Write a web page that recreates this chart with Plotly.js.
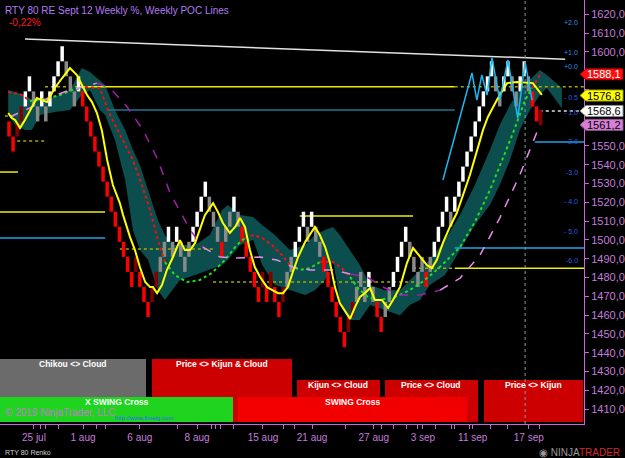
<!DOCTYPE html>
<html>
<head>
<meta charset="utf-8">
<script src="https://cdn.plot.ly/plotly-3.0.1.min.js"></script>
<style>
html,body{margin:0;padding:0;background:#000;overflow:hidden;}
#chart{width:625px;height:458px;}
</style>
</head>
<body>
<div id="chart"></div>
<script>
// ================= DATA =================
const BRICK = 8; // renko brick size (80 ticks)
const brickLow = [
 1555,1547,1555,1563,1571,1579,1571,1563,1571,1563,
 1571,1579,1587,1595,1587,1579,1571,1579,1571,1563,
 1555,1547,1539,1531,1523,1515,1507,1499,1491,1483,
 1475,1483,1475,1467,1459,1467,1475,1483,1491,1499,
 1491,1499,1491,1483,1491,1499,1507,1515,1523,1515,
 1507,1499,1491,1499,1507,1515,1507,1499,1491,1483,
 1475,1467,1475,1467,1475,1467,1459,1467,1475,1483,
 1491,1499,1507,1499,1507,1499,1491,1483,1475,1467,
 1459,1451,1443,1451,1459,1467,1475,1467,1475,1467,
 1459,1451,1459,1467,1475,1483,1491,1499,1491,1483,
 1475,1483,1475,1483,1491,1499,1507,1515,1507,1515,
 1523,1531,1539,1547,1555,1563,1571,1579,1587,1579,
 1571,1579,1587,1579,1571,1579,1587,1579,1571,1563,
 1561];
// W = up (trend up), G = grey, R = down (trend down), D = up in down trend
const brickType = "RRDDWWGGWG" + "WWWWGGGWRR" + "RRRRRRRRRR" + "RDRRRDDGGW" + "GWGGGWWWWG" +
                  "GGRGGWGRRR" + "RRDRDRRDGG" + "WWWGWGGRRR" + "RRRDDGGGWG" + "RRGGWWWWGG" +
                  "GGRGWWWWGW" + "WWWWWWWWWG" + "GWWGGWWGRR" + "D";

// fast average (yellow)
const fastX = [-0.2,0.7,1.5,2.7,3.9,5.6,6.8,9.3,11.2,13.0,14.9,16.6,17.8,19.1,20.3,21.5,22.7,24.0,25.4,27.1,
 27.9,29.6,30.8,32.0,33.3,34.5,35.2,36.2,37.4,38.6,40.1,41.8,43.0,44.3,45.5,46.7,47.9,49.9,51.1,52.3,
 54.0,55.3,56.5,57.7,58.9,60.1,61.4,63.1,64.5,65.8,67.0,68.2,69.4,70.7,72.4,74.8,76.0,77.3,78.5,79.7,
 80.9,83.4,84.6,85.8,87.0,88.3,89.5,91.2,92.7,93.9,95.6,97.3,98.8,100.5,102.2,103.4,104.6,106.1,107.8,109.5,
 112.7,115.9,117.1,119.3,121.8,124.2,126.7,128.1,130.3];
const fastY = [1567.5,1564.8,1563.8,1559.5,1563.8,1570.2,1575.5,1573.3,1580.8,1586.1,1591.4,1587.7,1582.4,1577.1,1573.3,1567.5,1558.4,1542.5,1529.2,1519.6,
 1513.2,1501.5,1494.6,1485.6,1477.6,1474.9,1474.9,1471.7,1476.0,1484.0,1490.9,1499.9,1494.6,1494.6,1498.4,1506.3,1513.2,1519.6,1514.8,1509.0,
 1503.7,1506.9,1511.6,1506.9,1494.6,1485.6,1480.3,1474.9,1473.3,1471.7,1471.7,1474.9,1482.9,1490.9,1498.9,1506.9,1502.6,1496.2,1487.7,1474.9,
 1466.4,1458.0,1464.3,1469.6,1471.7,1474.4,1468.0,1468.0,1463.8,1468.0,1474.9,1487.7,1495.7,1490.9,1486.6,1485.0,1489.3,1498.4,1506.9,1514.3,
 1534.5,1558.4,1565.4,1574.4,1583.4,1584.0,1583.4,1583.4,1577.1];

// kijun (dotted, green = price above, red = price below)
const kijX = [-0.2,3.2,5.1,8.8,12.5,15.4,18.6,22.2,24.7,27.1,30.3,32.5,34.5,36.4,38.1,40.6,43.5,46.7,49.6,52.8,
 55.7,57.7,59.7,61.9,64.3,66.7,68.7,71.1,73.6,76.0,79.2,81.4,83.4,85.3,87.8,90.2,94.4,98.0,101.0,103.7,
 106.6,110.3,113.9,117.6,120.8,123.7,126.2,127.9,130.3];
const kijY = [1578.7,1577.1,1573.9,1575.0,1577.1,1579.7,1581.3,1580.8,1566.4,1555.8,1542.5,1529.2,1515.9,1499.9,1488.2,1481.3,1477.6,1478.7,1482.4,1489.3,
 1497.3,1501.0,1502.6,1501.0,1497.3,1492.0,1486.6,1484.0,1485.0,1488.2,1488.2,1485.0,1480.3,1474.4,1469.6,1468.0,1469.6,1473.3,1477.6,1482.4,
 1488.2,1496.2,1509.5,1526.5,1543.6,1559.5,1574.4,1580.8,1589.3];
const kijState = "RR" + "GGGG" + "RRRRRRRR" + "GGGGGGG" + "RRRRR" + "GGG" + "RRR" + "GGGGGGGGGGGGGGG" + "RR";

// slow average (dashed, pink rising / purple falling)
const slowX = [0.2,5.1,10.0,14.9,18.1,21.5,24.7,28.9,32.8,36.2,39.4,44.3,47.4,51.6,55.7,61.4,65.5,69.4,73.6,79.2,
 83.4,87.5,91.4,95.6,100.5,105.4,110.3,115.2,120.0,124.9,129.8];
const slowY = [1565.4,1570.2,1576.0,1579.7,1581.3,1583.4,1580.8,1570.7,1558.4,1543.6,1524.9,1505.3,1496.2,1490.9,1490.4,1490.9,1489.3,1485.6,1484.0,1484.0,
 1481.9,1480.3,1475.0,1470.7,1470.7,1473.3,1479.7,1492.0,1511.6,1534.5,1561.2];
const slowState = "PPPPP" + "MMMMMMM" + "PPPPPPPP" + "MMMMM" + "PPPPPP";

// swing zigzag (cyan)
const zigX = [106.1,113.2,114.4,115.6,116.9,118.1,120.0,122.0,124.4,126.2,127.9];
const zigY = [1531.9,1588.8,1574.4,1587.7,1577.1,1596.8,1574.4,1595.7,1564.8,1594.6,1574.4];

// cloud
const cloudX = [-0.2,1.5,3.9,5.6,7.6,11.2,14.9,16.9,17.8,19.8,22.2,23.5,25.9,28.4,30.3,32.0,34.0,36.4,38.1,39.9,
 41.8,45.5,49.1,52.1,53.5,56.5,59.7,61.9,65.0,68.7,72.4,74.8,77.3,79.2,80.9,83.4,85.8,88.3,91.9,95.6,
 98.0,100.5,102.9,106.6,110.3,113.9,117.6,120.0,122.5,124.9,127.4,129.8,131.5,133.5,135.2];
const cloudTop = [1579.7,1578.7,1577.1,1574.4,1574.4,1576.0,1579.7,1587.7,1591.4,1589.3,1585.0,1582.4,1569.1,1558.4,1547.8,1539.8,1526.5,1510.6,1502.6,1497.3,
 1497.3,1497.3,1502.6,1515.9,1518.6,1513.2,1512.2,1507.9,1502.6,1494.6,1497.3,1502.6,1505.3,1506.9,1502.6,1494.6,1486.6,1476.0,1473.3,1473.3,
 1478.7,1484.0,1489.3,1500.0,1513.2,1529.2,1547.8,1561.1,1571.7,1579.7,1585.0,1590.4,1587.7,1584.0,1580.8];
const cloudBot = [1566.4,1561.1,1558.4,1558.4,1566.4,1568.0,1569.1,1574.4,1577.1,1579.7,1569.1,1566.4,1553.1,1531.9,1505.3,1494.6,1489.3,1473.3,1468.0,1473.3,
 1478.7,1481.3,1484.0,1486.6,1489.3,1497.3,1500.0,1486.6,1476.0,1473.3,1470.7,1473.3,1478.7,1489.3,1468.0,1457.4,1457.4,1465.4,1462.7,1460.0,
 1465.4,1468.0,1476.0,1481.3,1494.6,1507.9,1518.6,1529.2,1542.5,1558.4,1569.1,1577.1,1580.8,1575.0,1570.0];

// trend line (white)
const trendX = [3.9, 136.0];
const trendY = [1606.8, 1596.1];

// POC / weekly level lines
const levelPrice = [1581.5,1581.5,1581.5,1569.1,1568.6,1536.1,1514.8,1501.0,1552.6,1565.9,1495.2,1477.6,1512.7,1485.0,1485.0,1495.7,1552.1];
const levelFrom  = [8.8,17.3,109.0,24.0,129.8,-2.2,-2.2,-2.2,2.0,-1.0,27.1,49.9,71.1,98.8,109.0,109.0,128.6];
const levelTo    = [17.3,109.0,140.6,109.0,140.6,2.2,23.5,23.5,8.8,2.0,49.9,99.3,98.8,109.0,140.6,140.6,140.6];
const levelKind  = ['olive','yellow','olive','teal','white','yellow','yellow','cyan','olive','olive','olive','olive','yellow','olive','yellow','cyan','cyan'];

// weekly % labels
const pctText  = ['+2.0','+1.0','+0.0','- 0.5','- 1.0','-2.0','-3.0','- 4.0','- 5.0','-6.0'];
const pctPrice = [1615.4,1599.9,1592.0,1575.5,1568.0,1552.1,1535.6,1520.2,1504.7,1488.8];

// last-value price markers
const lastText  = ['1588,1','1576,8','1568,6','1561,2'];
const lastPrice = [1588.1,1576.8,1568.6,1561.2];

// axes
const priceTicks = [1410,1420,1430,1440,1450,1460,1470,1480,1490,1500,1510,1520,1530,1540,1550,1560,1570,1580,1590,1600,1610,1620];
const hiddenPriceTicks = [1560,1570,1580,1590]; // covered by the last-value markers
const dateTickPos  = [6.1,18.1,32.0,46.0,62.1,74.1,89.2,101.2,113.4,127.1];
const dateTickText = ['25 jul','1 aug','6 aug','8 aug','15 aug','21 aug','27 aug','3 sep','11 sep','17 sep'];
const minorTickPos = [7.8,9.0,12.2,21.3,23.7,41.2,49.4,50.6,51.8,54.8,67.0,69.9,82.2,91.0,93.9,97.3,99.8,104.2,108.1,109.0,112.5,117.8,121.8,129.8];
const cursorIndex = 126.2;

// signal panels
const panelText = ['Chikou <> Cloud','Price <> Kijun & Cloud','Kijun <> Cloud','Price <> Cloud','Price <> Kijun','X SWING Cross','SWING Cross'];

// ================= STYLE / LAYOUT =================
const FONT = 'Liberation Sans, Arial, sans-serif';
const W = 625, H = 458, MR = 41, MB = 34;
const PW = W - MR, PH = H - MB;
const X_RANGE = [-2.2, 140.6], Y_RANGE = [1402.1, 1627.6];
const AXC = '#c868d8', LBL = '#c47ddb';
const px = v => v / PW;
const py = v => 1 - v / PH;
const pY = p => (p - Y_RANGE[0]) / (Y_RANGE[1] - Y_RANGE[0]);

const levelStyle = {
  olive: {color:'#a8a800', dash:'dot', width:1.5},
  yellow:{color:'#eeee00', dash:'solid', width:1.5},
  teal:  {color:'#1b7890', dash:'solid', width:1.5},
  white: {color:'#e0e0e0', dash:'dot', width:1.5},
  cyan:  {color:'#1aa6e6', dash:'solid', width:1.5}
};
const brickColor = {W:'#ffffff', G:'#8a8a8a', R:'#ff0000', D:'#840000'};

function segments(xs, ys, states, cmap, dash, width, yaxis) {
  const out = []; let start = 0;
  for (let k = 1; k < xs.length; k++) {
    if (k === xs.length - 1 || states[k] !== states[start]) {
      out.push({type:'scatter', mode:'lines', x: xs.slice(start, k + 1), y: ys.slice(start, k + 1),
        yaxis: yaxis, hoverinfo:'skip', line:{color: cmap[states[start]], dash: dash, width: width}});
      start = k;
    }
  }
  return out;
}

const traces = [];
// main subplot: cloud + level lines (behind bricks)
traces.push({type:'scatter', mode:'lines', x: cloudX, y: cloudBot, line:{width:0, color:'#0c4b4b'}, hoverinfo:'skip'});
traces.push({type:'scatter', mode:'lines', x: cloudX, y: cloudTop, fill:'tonexty', fillcolor:'#0c4d4d', line:{width:0, color:'#0c4b4b'}, hoverinfo:'skip'});
levelPrice.forEach((p, i) => {
  traces.push({type:'scatter', mode:'lines', x:[levelFrom[i], levelTo[i]], y:[p, p], hoverinfo:'skip', line: levelStyle[levelKind[i]]});
});
// overlay subplot: bricks + indicators
traces.push({type:'bar', x: brickLow.map((_, i) => i), y: brickLow.map(() => BRICK), base: brickLow,
  width: 0.85, yaxis:'y2', hoverinfo:'skip',
  marker:{color: brickType.split('').map(t => brickColor[t]), line:{width:0}}});
segments(kijX, kijY, kijState, {G:'#22dd22', R:'#ee1111'}, 'dot', 2, 'y2').forEach(t => traces.push(t));
segments(slowX, slowY, slowState, {P:'#e88be8', M:'#a020a8'}, 'dash', 1.5, 'y2').forEach(t => traces.push(t));
traces.push({type:'scatter', mode:'lines', x: fastX, y: fastY, yaxis:'y2', hoverinfo:'skip', line:{color:'#ffff00', width:2}});
traces.push({type:'scatter', mode:'lines', x: zigX, y: zigY, yaxis:'y2', hoverinfo:'skip', line:{color:'#18b8f2', width:1.5}});
traces.push({type:'scatter', mode:'lines', x: trendX, y: trendY, yaxis:'y2', hoverinfo:'skip', line:{color:'#e2e2e2', width:1.5}});

// shapes
const shapes = [];
const panels = [ // [x0,x1,y0,y1,fill] in pixels
  [0,146,359,397,'#6b6b6b'],
  [152,292,359,422,'#cc0000'],
  [297,380,380,422,'#cc0000'],
  [385,478,380,422,'#cc0000'],
  [484,583,380,422,'#cc0000'],
  [0,233,397,422,'#1ed41e'],
  [238,467,397,422,'#f20000']
];
const panelTextPos = [[73,364],[222,364],[338,385],[431,385],[533,385],[117,402],[353,402]];
panels.forEach(b => shapes.push({type:'rect', xref:'paper', yref:'paper', layer:'above',
  x0: px(b[0]), x1: px(b[1]), y0: py(b[3]), y1: py(b[2]), fillcolor: b[4], line:{width:0}}));
shapes.push({type:'line', xref:'x', yref:'paper', layer:'above', x0: cursorIndex, x1: cursorIndex, y0: 0, y1: 1,
  line:{color:'#7fa0a0', width:1, dash:'dot'}});
const lastFill = ['#ff1010','#ffff00','#ffffff','#d580d5'];
const lastEdge = ['#a00000','#a0a000','#909090','#905090'];
const lastFont = ['#ffffff','#000000','#000000','#000000'];
lastPrice.forEach((p, i) => {
  const c = pY(p), h = 5.5 / PH;
  shapes.push({type:'path', xref:'paper', yref:'paper', layer:'above',
    path: `M ${px(580)},${c} L ${px(586)},${c + h} L ${px(623)},${c + h} L ${px(623)},${c - h} L ${px(586)},${c - h} Z`,
    fillcolor: lastFill[i], line:{color: lastEdge[i], width:1}});
});

// annotations
const ann = [];
ann.push({xref:'paper', yref:'paper', x: px(3), y: py(10), xanchor:'left', yanchor:'middle', showarrow:false,
  text:'RTY 80 RE Sept 12 Weekly %, Weekly POC Lines', font:{family:FONT, size:10, color:'#b07cf0'}});
ann.push({xref:'paper', yref:'paper', x: px(7), y: py(22), xanchor:'left', yanchor:'middle', showarrow:false,
  text:'-0,22%', font:{family:FONT, size:10, color:'#ff1a1a'}});
pctText.forEach((t, i) => ann.push({xref:'paper', yref:'paper', x: px(580), y: pY(pctPrice[i]), xanchor:'right', yanchor:'middle',
  showarrow:false, text:t, font:{family:FONT, size:7, color: i < 3 ? '#2f8ff0' : '#2a5ee0'}}));
panelText.forEach((t, i) => ann.push({xref:'paper', yref:'paper', x: px(panelTextPos[i][0]), y: py(panelTextPos[i][1]),
  xanchor:'center', yanchor:'middle', showarrow:false, text:'<b>' + t + '</b>', font:{family:FONT, size:8.5, color:'#ffffff'}}));
ann.push({xref:'paper', yref:'paper', x: px(3), y: py(412), xanchor:'left', yanchor:'middle', showarrow:false,
  text:'© 2019 NinjaTrader, LLC', font:{family:FONT, size:10, color:'#c47ad0'}});
ann.push({xref:'paper', yref:'paper', x: px(113), y: py(418), xanchor:'left', yanchor:'middle', showarrow:false,
  text:'http://www.fimelg.com', font:{family:FONT, size:6, color:'#3060ff'}});
lastText.forEach((t, i) => ann.push({xref:'paper', yref:'paper', x: px(604), y: pY(lastPrice[i]), xanchor:'center', yanchor:'middle',
  showarrow:false, text:t, font:{family:FONT, size:11, color: lastFont[i]}}));
ann.push({xref:'paper', yref:'paper', x: px(3), y: py(452), xanchor:'left', yanchor:'middle', showarrow:false,
  text:'RTY 80 Renko', font:{family:FONT, size:7, color:'#d0d0d0'}});
ann.push({xref:'paper', yref:'paper', x: px(622), y: py(452), xanchor:'right', yanchor:'middle', showarrow:false,
  text:'<span style="color:#9a9a9a">◉ NINJA</span><span style="color:#d42a2a">TRADER</span>',
  font:{family:FONT, size:10, color:'#9a9a9a'}});

const layout = {
  width: W, height: H,
  margin:{l:0, r:MR, t:0, b:MB, pad:0},
  paper_bgcolor:'#000000', plot_bgcolor:'#000000',
  showlegend:false, hovermode:false, separators:',.',
  font:{family:FONT, size:11, color:LBL},
  xaxis:{range:X_RANGE, showgrid:false, zeroline:false, showline:true, linecolor:AXC, linewidth:1,
    ticks:'outside', ticklen:4, tickcolor:AXC, tickmode:'array',
    tickvals: dateTickPos.concat(minorTickPos), ticktext: dateTickText.concat(minorTickPos.map(() => '')),
    tickfont:{family:FONT, size:10, color:LBL}},
  yaxis:{range:Y_RANGE, side:'right', showgrid:false, zeroline:false, showline:true, linecolor:AXC, linewidth:1,
    ticks:'outside', ticklen:4, tickcolor:AXC, tickmode:'array', tickvals: priceTicks,
    ticktext: priceTicks.map(v => hiddenPriceTicks.includes(v) ? '' : v.toFixed(1).replace('.', ',')),
    tickfont:{family:FONT, size:11, color:LBL}},
  yaxis2:{range:Y_RANGE, overlaying:'y', side:'right', visible:false, showgrid:false, zeroline:false},
  shapes: shapes,
  annotations: ann
};

Plotly.newPlot('chart', traces, layout, {staticPlot:true, displayModeBar:false});
</script>
</body>
</html>
